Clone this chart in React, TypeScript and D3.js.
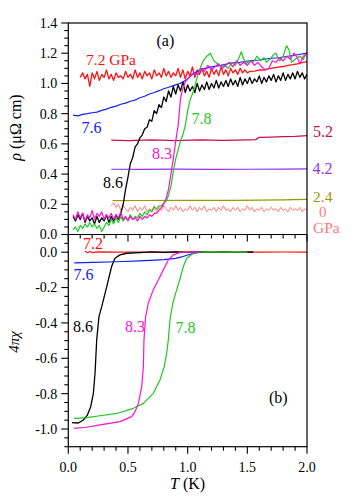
import React from "react";
import * as d3 from "d3";

// ---------- data: panel (a) resistivity rho (μΩ cm) vs T (K) ----------
const RHO_72: [number, number][] = [
  [0.10, 1.04], [0.12, 1.07], [0.14, 1.03], [0.16, 1.06], [0.18, 0.98], [0.20, 1.07], [0.22, 1.03], [0.24, 1.08],
  [0.26, 1.02], [0.28, 1.06], [0.30, 1.04], [0.32, 1.09], [0.34, 1.03], [0.36, 1.06], [0.38, 1.02], [0.40, 1.07],
  [0.42, 1.04], [0.44, 1.05], [0.46, 1.03], [0.48, 1.08], [0.50, 1.04], [0.52, 1.06], [0.54, 1.03], [0.56, 1.09],
  [0.58, 1.04], [0.60, 1.07], [0.62, 1.03], [0.64, 1.08], [0.66, 1.05], [0.68, 1.07], [0.70, 1.03], [0.72, 1.09],
  [0.74, 1.05], [0.76, 1.07], [0.78, 1.04], [0.80, 1.10], [0.82, 1.05], [0.84, 1.08], [0.86, 1.04], [0.88, 1.07],
  [0.90, 1.05], [0.92, 1.10], [0.94, 1.04], [0.96, 1.09], [0.98, 1.03], [1.00, 1.08], [1.02, 1.05], [1.04, 1.11],
  [1.06, 1.04], [1.08, 1.09], [1.10, 1.06], [1.12, 1.10], [1.14, 1.05], [1.16, 1.08], [1.18, 1.04], [1.20, 1.10],
  [1.22, 1.06], [1.24, 1.09], [1.26, 1.05], [1.28, 1.11], [1.30, 1.06], [1.32, 1.09], [1.34, 1.05], [1.36, 1.10],
  [1.38, 1.07], [1.40, 1.09], [1.42, 1.06], [1.44, 1.10], [1.46, 1.07], [1.48, 1.09], [1.50, 1.07], [1.52, 1.08],
  [1.56, 1.082], [1.60, 1.090], [1.64, 1.088], [1.68, 1.098], [1.72, 1.103], [1.76, 1.108], [1.80, 1.112],
  [1.84, 1.120], [1.88, 1.124], [1.92, 1.130], [1.96, 1.137], [2.00, 1.145],
];

const RHO_76: [number, number][] = [
  [0.04, 0.79], [0.08, 0.785], [0.12, 0.795], [0.16, 0.80], [0.20, 0.806], [0.24, 0.81], [0.28, 0.822],
  [0.32, 0.83], [0.36, 0.842], [0.40, 0.85], [0.44, 0.862], [0.48, 0.87], [0.52, 0.882], [0.56, 0.89],
  [0.60, 0.905], [0.64, 0.915], [0.68, 0.93], [0.72, 0.94], [0.76, 0.952], [0.80, 0.965], [0.84, 0.975],
  [0.88, 0.985], [0.92, 0.995], [0.96, 1.01], [1.00, 1.03], [1.04, 1.06], [1.08, 1.08], [1.12, 1.095],
  [1.20, 1.11], [1.28, 1.12], [1.36, 1.135], [1.44, 1.14], [1.52, 1.15], [1.60, 1.155], [1.68, 1.165],
  [1.76, 1.17], [1.84, 1.18], [1.92, 1.19], [2.00, 1.20],
];

const RHO_86: [number, number][] = [
  [0.04, 0.12], [0.06, 0.09], [0.08, 0.13], [0.10, 0.10], [0.12, 0.14], [0.14, 0.08], [0.16, 0.12], [0.18, 0.09],
  [0.20, 0.11], [0.22, 0.07], [0.24, 0.12], [0.26, 0.08], [0.28, 0.11], [0.30, 0.09], [0.32, 0.13], [0.34, 0.08],
  [0.36, 0.12], [0.38, 0.09], [0.40, 0.13], [0.42, 0.10], [0.44, 0.14], [0.46, 0.20], [0.48, 0.30], [0.50, 0.38],
  [0.52, 0.47], [0.54, 0.51], [0.56, 0.58], [0.58, 0.60], [0.60, 0.64], [0.62, 0.66], [0.64, 0.70], [0.66, 0.71],
  [0.68, 0.76], [0.70, 0.75], [0.72, 0.82], [0.74, 0.80], [0.76, 0.86], [0.78, 0.84], [0.80, 0.91], [0.82, 0.88],
  [0.84, 0.95], [0.86, 0.91], [0.88, 0.98], [0.90, 0.93], [0.92, 0.99], [0.94, 0.95], [0.96, 1.01], [0.98, 0.94],
  [1.00, 0.99], [1.02, 0.95], [1.04, 0.98], [1.06, 0.94], [1.08, 1.00], [1.10, 0.95], [1.12, 0.99], [1.14, 0.96],
  [1.16, 1.01], [1.18, 0.96], [1.20, 1.00], [1.22, 0.97], [1.24, 1.02], [1.26, 0.97], [1.28, 1.01], [1.30, 0.98],
  [1.32, 1.02], [1.34, 0.98], [1.36, 1.03], [1.38, 0.99], [1.40, 1.02], [1.42, 0.98], [1.44, 1.04], [1.46, 0.99],
  [1.48, 1.03], [1.50, 1.00], [1.52, 1.04], [1.54, 1.00], [1.56, 1.03], [1.58, 1.01], [1.60, 1.05], [1.62, 1.00],
  [1.64, 1.04], [1.66, 1.01], [1.68, 1.05], [1.70, 1.02], [1.72, 1.06], [1.74, 1.01], [1.76, 1.05], [1.78, 1.02],
  [1.80, 1.07], [1.82, 1.02], [1.84, 1.06], [1.86, 1.03], [1.88, 1.07], [1.90, 1.03], [1.92, 1.08], [1.94, 1.04],
  [1.96, 1.07], [1.98, 1.03], [2.00, 1.06],
];

const RHO_83: [number, number][] = [
  [0.04, 0.13], [0.06, 0.10], [0.08, 0.15], [0.10, 0.11], [0.12, 0.14], [0.14, 0.09], [0.16, 0.13], [0.18, 0.11],
  [0.20, 0.16], [0.22, 0.10], [0.24, 0.14], [0.26, 0.12], [0.28, 0.15], [0.30, 0.10], [0.32, 0.13], [0.34, 0.11],
  [0.36, 0.14], [0.38, 0.10], [0.40, 0.13], [0.42, 0.11], [0.44, 0.15], [0.46, 0.10], [0.48, 0.12], [0.50, 0.09],
  [0.52, 0.12], [0.54, 0.10], [0.56, 0.11], [0.58, 0.09], [0.60, 0.12], [0.62, 0.10], [0.64, 0.12], [0.66, 0.11],
  [0.68, 0.13], [0.70, 0.12], [0.72, 0.14], [0.74, 0.14], [0.76, 0.16], [0.78, 0.18], [0.80, 0.20], [0.82, 0.24],
  [0.84, 0.30], [0.86, 0.40], [0.88, 0.50], [0.90, 0.62], [0.92, 0.72], [0.94, 0.90], [0.96, 0.97], [0.98, 1.01],
  [1.00, 1.03], [1.02, 1.05], [1.05, 1.07], [1.08, 1.06], [1.11, 1.10], [1.14, 1.08], [1.17, 1.12], [1.20, 1.09],
  [1.23, 1.11], [1.26, 1.13], [1.29, 1.10], [1.32, 1.12], [1.35, 1.14], [1.38, 1.11], [1.41, 1.15], [1.44, 1.12],
  [1.47, 1.14], [1.50, 1.12], [1.53, 1.15], [1.56, 1.12], [1.59, 1.14], [1.62, 1.11], [1.65, 1.09], [1.68, 1.10],
  [1.71, 1.15], [1.74, 1.14], [1.77, 1.17], [1.80, 1.15], [1.83, 1.18], [1.86, 1.16], [1.89, 1.20], [1.92, 1.17],
  [1.94, 1.13], [1.97, 1.18], [2.00, 1.20],
];

const RHO_78: [number, number][] = [
  [0.04, 0.03], [0.06, 0.05], [0.08, 0.02], [0.10, 0.06], [0.12, 0.04], [0.14, 0.07], [0.16, 0.05], [0.18, 0.08],
  [0.20, 0.05], [0.22, 0.07], [0.24, 0.04], [0.26, 0.06], [0.28, 0.02], [0.30, 0.05], [0.32, 0.08], [0.34, 0.06],
  [0.36, 0.10], [0.38, 0.07], [0.40, 0.11], [0.42, 0.08], [0.44, 0.12], [0.46, 0.09], [0.48, 0.11], [0.50, 0.10],
  [0.52, 0.13], [0.54, 0.10], [0.56, 0.12], [0.58, 0.11], [0.60, 0.14], [0.62, 0.12], [0.64, 0.15], [0.66, 0.13],
  [0.68, 0.16], [0.70, 0.15], [0.72, 0.18], [0.74, 0.17], [0.76, 0.19], [0.78, 0.19], [0.80, 0.21], [0.82, 0.22],
  [0.84, 0.26], [0.86, 0.32], [0.88, 0.42], [0.90, 0.50], [0.92, 0.56], [0.94, 0.62], [0.96, 0.66], [0.98, 0.72],
  [1.00, 0.82], [1.02, 0.89], [1.04, 0.93], [1.06, 0.98], [1.08, 1.04], [1.10, 1.09], [1.13, 1.15], [1.16, 1.18],
  [1.19, 1.20], [1.22, 1.15], [1.25, 1.13], [1.28, 1.11], [1.31, 1.12], [1.34, 1.10], [1.37, 1.14], [1.40, 1.12],
  [1.43, 1.17], [1.45, 1.21], [1.47, 1.16], [1.49, 1.13], [1.52, 1.15], [1.55, 1.14], [1.58, 1.18], [1.61, 1.15],
  [1.64, 1.17], [1.66, 1.14], [1.69, 1.16], [1.72, 1.19], [1.74, 1.20], [1.77, 1.15], [1.80, 1.18], [1.83, 1.25],
  [1.85, 1.22], [1.87, 1.14], [1.90, 1.16], [1.94, 1.18], [1.97, 1.16], [2.00, 1.21],
];

const RHO_52: [number, number][] = [
  [0.36, 0.625], [0.50, 0.622], [0.70, 0.626], [0.90, 0.622], [1.10, 0.626], [1.30, 0.623], [1.50, 0.627],
  [1.57, 0.628], [1.60, 0.643], [1.70, 0.645], [1.80, 0.648], [1.90, 0.650], [2.00, 0.655],
];
const RHO_42: [number, number][] = [
  [0.36, 0.432], [0.60, 0.431], [0.90, 0.433], [1.20, 0.431], [1.50, 0.432], [1.80, 0.433], [2.00, 0.434],
];
const RHO_24: [number, number][] = [
  [0.37, 0.224], [0.60, 0.225], [1.00, 0.226], [1.40, 0.226], [1.80, 0.229], [2.00, 0.232],
];
const RHO_0: [number, number][] = [
  [0.36, 0.19], [0.38, 0.21], [0.40, 0.18], [0.42, 0.20], [0.44, 0.16], [0.46, 0.19], [0.48, 0.17], [0.50, 0.15],
  [0.52, 0.18], [0.54, 0.16], [0.56, 0.19], [0.58, 0.15], [0.60, 0.18], [0.62, 0.16], [0.64, 0.19], [0.66, 0.15],
  [0.68, 0.17], [0.70, 0.16], [0.72, 0.19], [0.74, 0.15], [0.76, 0.18], [0.78, 0.16], [0.80, 0.19], [0.82, 0.17],
  [0.84, 0.15], [0.86, 0.18], [0.88, 0.16], [0.90, 0.19], [0.92, 0.16], [0.94, 0.18], [0.96, 0.15], [0.98, 0.17],
  [1.00, 0.16], [1.02, 0.19], [1.04, 0.16], [1.06, 0.18], [1.08, 0.15], [1.10, 0.18], [1.12, 0.16], [1.14, 0.19],
  [1.16, 0.15], [1.18, 0.17], [1.20, 0.16], [1.22, 0.18], [1.24, 0.15], [1.26, 0.18], [1.28, 0.16], [1.30, 0.19],
  [1.32, 0.16], [1.34, 0.17], [1.36, 0.15], [1.38, 0.18], [1.40, 0.16], [1.42, 0.18], [1.44, 0.15], [1.46, 0.17],
  [1.48, 0.16], [1.50, 0.19], [1.52, 0.16], [1.54, 0.18], [1.56, 0.15], [1.58, 0.17], [1.60, 0.16], [1.62, 0.18],
  [1.64, 0.15], [1.66, 0.17], [1.68, 0.16], [1.70, 0.18], [1.72, 0.16], [1.74, 0.17], [1.76, 0.15], [1.78, 0.18],
  [1.80, 0.16], [1.82, 0.17], [1.84, 0.15], [1.86, 0.18], [1.88, 0.16], [1.90, 0.17], [1.92, 0.16], [1.94, 0.18],
  [1.96, 0.15], [1.98, 0.17], [2.00, 0.16],
];

// ---------- data: panel (b) susceptibility 4πχ vs T (K) ----------
const CHI_72: [number, number][] = [
  [0.14, 0.006], [0.16, -0.003], [0.18, 0.004], [0.20, -0.002], [0.25, 0.002], [0.40, 0.0], [0.60, 0.001],
  [0.80, 0.0], [1.00, 0.001], [1.20, 0.0], [1.40, 0.001], [1.60, 0.0], [1.80, 0.001], [2.00, 0.0],
];
const CHI_76: [number, number][] = [
  [0.05, -0.06], [0.20, -0.058], [0.40, -0.054], [0.60, -0.049], [0.80, -0.042], [0.90, -0.035],
  [0.95, -0.027], [1.00, -0.016], [1.05, -0.007], [1.10, -0.001], [1.12, 0.0],
];
const CHI_86: [number, number][] = [
  [0.03, -0.964], [0.084, -0.966], [0.126, -0.949], [0.16, -0.921], [0.188, -0.874], [0.21, -0.798],
  [0.224, -0.685], [0.238, -0.496], [0.257, -0.364], [0.28, -0.308], [0.322, -0.195], [0.363, -0.081],
  [0.391, -0.034], [0.433, -0.015], [0.49, -0.006], [0.60, -0.002], [0.70, 0.002], [0.80, -0.001],
  [0.90, 0.002], [1.00, -0.001], [1.10, 0.002], [1.20, -0.001], [1.30, 0.002], [1.40, -0.001], [1.55, 0.001],
];
const CHI_83: [number, number][] = [
  [0.048, -0.996], [0.15, -0.99], [0.266, -0.977], [0.433, -0.958], [0.531, -0.93], [0.559, -0.902],
  [0.587, -0.855], [0.615, -0.76], [0.629, -0.647], [0.634, -0.496], [0.648, -0.364], [0.67, -0.289],
  [0.712, -0.213], [0.754, -0.157], [0.796, -0.10], [0.838, -0.044], [0.88, -0.015], [0.936, -0.002],
  [1.00, 0.0], [1.10, 0.0],
];
const CHI_78: [number, number][] = [
  [0.048, -0.94], [0.154, -0.936], [0.266, -0.925], [0.405, -0.912], [0.545, -0.883], [0.629, -0.855],
  [0.712, -0.798], [0.768, -0.723], [0.804, -0.647], [0.824, -0.572], [0.838, -0.496], [0.852, -0.383],
  [0.875, -0.289], [0.908, -0.213], [0.936, -0.15], [0.964, -0.081], [0.992, -0.034], [1.047, -0.006],
  [1.10, 0.0], [1.30, 0.0], [1.50, 0.0],
];

const X_MAJOR = [0, 0.5, 1.0, 1.5, 2.0];
const RHO_MAJOR = [0, 0.2, 0.4, 0.6, 0.8, 1.0, 1.2, 1.4];
const CHI_MAJOR = [-1.0, -0.8, -0.6, -0.4, -0.2, 0.0];

const FONT = "Liberation Serif, Times New Roman, serif";

const C = {
  red: "#ff1010",
  blue: "#1020ff",
  black: "#000000",
  magenta: "#ff10d0",
  green: "#20c820",
  crimson: "#c8104a",
  purple: "#9333f0",
  olive: "#9c9600",
  salmon: "#ff7a7a",
};

export default function App() {
  const L = 68.3, R = 307, TOP = 23, MID = 234.5, BOT = 446.7;
  const x = d3.scaleLinear().domain([0, 2]).range([L, R]);
  const yA = d3.scaleLinear().domain([0, 1.4]).range([MID, TOP]);
  const yB = d3.scaleLinear().domain([-1.1, 0.1]).range([BOT, MID]);

  const lineA = d3.line<[number, number]>().x((d) => x(d[0])).y((d) => yA(d[1]));
  const lineB = d3.line<[number, number]>().x((d) => x(d[0])).y((d) => yB(d[1]));

  const topSeries: [[number, number][], string, number][] = [
    [RHO_0, C.salmon, 1],
    [RHO_24, C.olive, 1.2],
    [RHO_42, C.purple, 1.2],
    [RHO_52, C.crimson, 1.2],
    [RHO_72, C.red, 1.3],
    [RHO_76, C.blue, 1.2],
    [RHO_86, C.black, 1.3],
    [RHO_78, C.green, 1.2],
    [RHO_83, C.magenta, 1.2],
  ];
  const botSeries: [[number, number][], string, number][] = [
    [CHI_72, C.red, 1.2],
    [CHI_76, C.blue, 1.2],
    [CHI_86, C.black, 1.3],
    [CHI_78, C.green, 1.2],
    [CHI_83, C.magenta, 1.2],
  ];

  const xMinor = d3.range(0, 21).map((i) => i / 10).filter((v) => !X_MAJOR.some((m) => Math.abs(m - v) < 1e-6));
  const rhoMinor = d3.range(0, 29).map((i) => i * 0.05).filter((v) => !RHO_MAJOR.some((m) => Math.abs(m - v) < 1e-6));
  const chiMinor = d3.range(0, 25).map((i) => -1.1 + i * 0.05).filter((v) => !CHI_MAJOR.some((m) => Math.abs(m - v) < 1e-6));

  const fmt = d3.format(".1f");
  const fmtSigned = (v: number) => (v < 0 ? "-" + fmt(-v) : fmt(v));

  const label = (tx: number, ty: number, text: string, color: string, size = 16) => (
    <text x={tx} y={ty} fill={color} style={{ fontSize: size, fontFamily: FONT }}>{text}</text>
  );
  const ts = (size: number) => ({ fontSize: size, fontFamily: FONT });

  return (
    <svg width={360} height={500} style={{ position: "absolute", left: 0, top: 0, background: "#fff", fontFamily: FONT }}>
      <defs>
        <clipPath id="clipA"><rect x={L} y={TOP} width={R - L} height={MID - TOP} /></clipPath>
        <clipPath id="clipB"><rect x={L} y={MID} width={R - L} height={BOT - MID} /></clipPath>
      </defs>

      <g clipPath="url(#clipA)">
        {topSeries.map(([d, c, w], i) => (
          <path key={i} d={lineA(d) || ""} fill="none" stroke={c} strokeWidth={w} strokeLinejoin="round" />
        ))}
      </g>
      <g clipPath="url(#clipB)">
        {botSeries.map(([d, c, w], i) => (
          <path key={i} d={lineB(d) || ""} fill="none" stroke={c} strokeWidth={w} strokeLinejoin="round" />
        ))}
      </g>

      {/* frame */}
      <rect x={L} y={TOP} width={R - L} height={BOT - TOP} fill="none" stroke="#000" strokeWidth={1.2} />
      <line x1={L} x2={R} y1={MID} y2={MID} stroke="#000" strokeWidth={1.2} />

      {/* x ticks: bottom axis and middle axis */}
      {[BOT, MID].map((yy, k) => (
        <g key={k}>
          {X_MAJOR.map((v) => (
            <line key={"M" + v} x1={x(v)} x2={x(v)} y1={yy} y2={yy + 7} stroke="#000" strokeWidth={1.1} />
          ))}
          {xMinor.map((v) => (
            <line key={"m" + v} x1={x(v)} x2={x(v)} y1={yy} y2={yy + 4} stroke="#000" strokeWidth={1.1} />
          ))}
        </g>
      ))}
      {X_MAJOR.map((v) => (
        <text key={"xl" + v} x={x(v)} y={472} textAnchor="middle" style={ts(14)}>{fmt(v)}</text>
      ))}

      {/* y ticks panel (a) */}
      {RHO_MAJOR.map((v) => (
        <g key={"ra" + v}>
          <line x1={L - 7} x2={L} y1={yA(v)} y2={yA(v)} stroke="#000" strokeWidth={1.1} />
          <text x={L - 11} y={yA(v)} dy="0.35em" textAnchor="end" style={ts(14)}>{fmt(v)}</text>
        </g>
      ))}
      {rhoMinor.map((v) => (
        <line key={"rm" + v} x1={L - 4} x2={L} y1={yA(v)} y2={yA(v)} stroke="#000" strokeWidth={1.1} />
      ))}

      {/* y ticks panel (b) */}
      {CHI_MAJOR.map((v) => (
        <g key={"ca" + v}>
          <line x1={L - 7} x2={L} y1={yB(v)} y2={yB(v)} stroke="#000" strokeWidth={1.1} />
          <text x={L - 11} y={yB(v)} dy="0.35em" textAnchor="end" style={ts(14)}>{fmtSigned(v)}</text>
        </g>
      ))}
      {chiMinor.map((v) => (
        <line key={"cm" + v} x1={L - 4} x2={L} y1={yB(v)} y2={yB(v)} stroke="#000" strokeWidth={1.1} />
      ))}

      {/* axis titles */}
      <text transform="translate(21,127.5) rotate(-90)" textAnchor="middle" style={ts(16)}>
        <tspan fontStyle="italic">ρ</tspan> (μΩ cm)
      </text>
      <text transform="translate(19,342) rotate(-90)" textAnchor="middle" style={{ ...ts(15), fontStyle: "italic" }}>
        4πχ
      </text>
      <text x={x(1.0)} y={489} textAnchor="middle" style={ts(16)}>
        <tspan fontStyle="italic">T</tspan> (K)
      </text>

      {/* panel (a) annotations */}
      {label(156.5, 46, "(a)", "#000")}
      {label(86, 65, "7.2 GPa", C.red, 15.5)}
      {label(81.5, 133, "7.6", C.blue)}
      {label(103, 188, "8.6", C.black)}
      {label(152, 159, "8.3", C.magenta)}
      {label(191.5, 124, "7.8", C.green)}
      {label(313, 137, "5.2", C.crimson)}
      {label(312.5, 174, "4.2", C.purple)}
      {label(313, 201.5, "2.4", C.olive, 15.5)}
      {label(319, 216.5, "0", C.salmon, 15)}
      {label(313, 233, "GPa", C.salmon, 15.5)}

      {/* panel (b) annotations */}
      {label(269, 403, "(b)", "#000")}
      {label(83, 249, "7.2", C.red)}
      {label(73.5, 280, "7.6", C.blue)}
      {label(73, 332, "8.6", C.black)}
      {label(125, 332, "8.3", C.magenta)}
      {label(175.5, 333, "7.8", C.green)}
    </svg>
  );
}
